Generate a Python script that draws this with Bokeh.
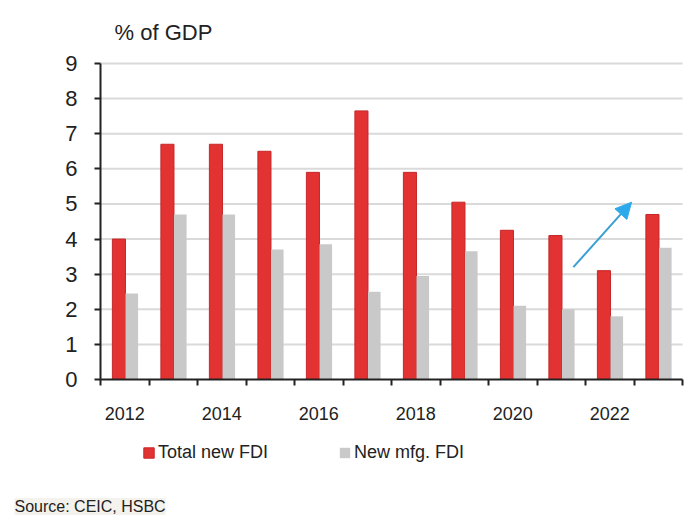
from bokeh.plotting import figure
from bokeh.models import (ColumnDataSource, FixedTicker, Label, Legend, LegendItem,
                          Arrow, NormalHead, Range1d)
from bokeh.embed import file_html
from bokeh.resources import INLINE

# data (% of GDP)
years = [2012, 2013, 2014, 2015, 2016, 2017, 2018, 2019, 2020, 2021, 2022, 2023]
total_fdi = [4.0, 6.7, 6.7, 6.5, 5.9, 7.65, 5.9, 5.05, 4.25, 4.1, 3.1, 4.7]
mfg_fdi = [2.45, 4.7, 4.7, 3.7, 3.85, 2.5, 2.95, 3.65, 2.1, 2.0, 1.8, 3.75]
year_labels = ["2012", "2014", "2016", "2018", "2020", "2022"]
y_ticks = [0, 1, 2, 3, 4, 5, 6, 7, 8, 9]
arrow_start = (9.75, 3.2)
arrow_end = (10.95, 5.05)

RED = "#E23231"
GRAY = "#C9C9C9"
FONT = "Liberation Sans"
W, H = 700, 530

# plot area in pixels: left 100, right 682, y=0 at 379, y=9 at 63
px_x = (682 - 100) / len(years)
px_y = (379 - 63) / 9

pos = [i + 0.5 for i in range(len(years))]
source = ColumnDataSource(dict(
    x_total=[x - 0.12 for x in pos],
    x_mfg=[x + 0.145 for x in pos],
    total=total_fdi,
    mfg=mfg_fdi,
))

# the frame covers the whole canvas, the axes sit at fixed data locations
p = figure(width=W, height=H, output_backend="svg", toolbar_location=None, title=None,
           x_range=Range1d(-100 / px_x, len(years) + (W - 682) / px_x),
           y_range=Range1d(-(H - 379) / px_y, 9 + 63 / px_y))
p.min_border = 0
p.outline_line_color = None
p.xgrid.grid_line_color = None
p.ygrid.grid_line_color = None

# horizontal gridlines only across the plot area
grid_levels = y_ticks[1:]
p.segment(x0=[0] * len(grid_levels), x1=[len(years)] * len(grid_levels),
          y0=grid_levels, y1=grid_levels, line_color="#DADADA", line_width=2,
          level="underlay")

r_total = p.vbar(x="x_total", top="total", width=0.27, source=source,
                 fill_color=RED, line_color="#C4282A", line_width=1)
r_mfg = p.vbar(x="x_mfg", top="mfg", width=0.26, source=source,
               fill_color=GRAY, line_color=None)

# x axis: labels every other year at category centres, ticks at boundaries
label_pos = [pos[years.index(int(y))] for y in year_labels]
p.xaxis.fixed_location = 0
p.xaxis.bounds = (0, len(years))
p.xaxis.ticker = FixedTicker(ticks=label_pos, minor_ticks=list(range(len(years) + 1)))
p.xaxis.major_label_overrides = {lp: lab for lp, lab in zip(label_pos, year_labels)}
p.xaxis.major_tick_line_color = None
p.xaxis.minor_tick_out = 6
p.xaxis.minor_tick_in = 0
p.xaxis.minor_tick_line_color = "#222222"
p.xaxis.minor_tick_line_width = 2
p.xaxis.axis_line_width = 2
p.xaxis.axis_line_color = "#222222"
p.xaxis.major_label_text_font = FONT
p.xaxis.major_label_text_font_size = "18px"
p.xaxis.major_label_text_color = "#222222"
p.xaxis.major_label_standoff = 21

p.yaxis.fixed_location = 0
p.yaxis.bounds = (0, 9)
p.yaxis.ticker = FixedTicker(ticks=y_ticks)
p.yaxis.minor_tick_line_color = None
p.yaxis.major_tick_out = 6
p.yaxis.major_tick_in = 0
p.yaxis.major_tick_line_width = 2
p.yaxis.major_tick_line_color = "#222222"
p.yaxis.axis_line_width = 2
p.yaxis.axis_line_color = "#222222"
p.yaxis.major_label_text_font = FONT
p.yaxis.major_label_text_font_size = "22px"
p.yaxis.major_label_text_color = "#222222"
p.yaxis.major_label_standoff = 17

# growth arrow
p.add_layout(Arrow(x_start=arrow_start[0], y_start=arrow_start[1],
                   x_end=arrow_end[0], y_end=arrow_end[1],
                   line_color="#3A9FD2", line_width=2,
                   end=NormalHead(size=16, fill_color="#2BA9EA", line_color="#2BA9EA")))

# texts (screen units from the bottom-left corner)
p.add_layout(Label(x=114, y=H - 32, x_units="screen", y_units="screen", text="% of GDP",
                   text_font=FONT, text_font_size="22px",
                   text_color="#222222", text_baseline="middle"))
p.add_layout(Label(x=14, y=H - 506, x_units="screen", y_units="screen",
                   text="Source: CEIC, HSBC", text_font=FONT, text_font_size="16px",
                   text_color="#222222", text_baseline="middle",
                   background_fill_color="#F4F2EC"))

legend = Legend(items=[LegendItem(label="Total new FDI", renderers=[r_total]),
                       LegendItem(label="New mfg. FDI", renderers=[r_mfg])],
                orientation="horizontal", location=(142, H - 463),
                label_text_font=FONT, label_text_font_size="18px",
                label_text_color="#222222", glyph_width=13, glyph_height=13,
                spacing=70, label_standoff=3, padding=0, margin=0,
                border_line_color=None, background_fill_alpha=0)
p.add_layout(legend)

open("out.html", "w").write(file_html(p, INLINE))
